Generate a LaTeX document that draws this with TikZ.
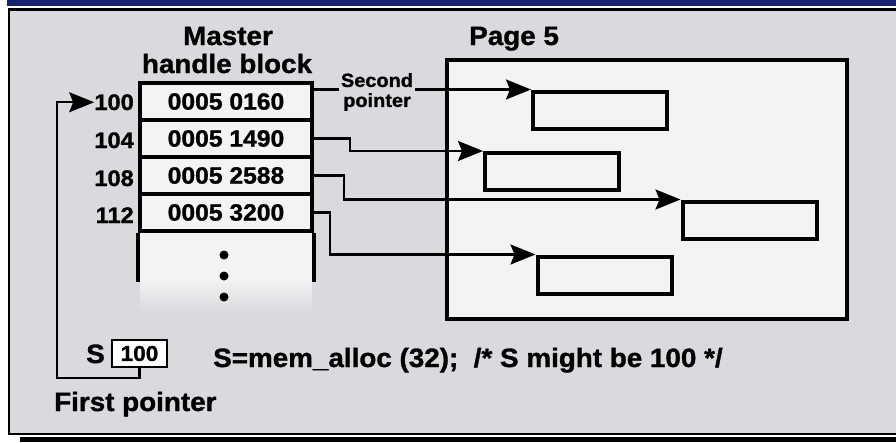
\documentclass[tikz,border=0pt]{standalone}
\usepackage{fontspec}
\setmainfont{Liberation Sans}[FakeStretch=1.05, BoldFeatures={FakeBold=1.2}]
\usetikzlibrary{arrows.meta}
\definecolor{panelgray}{RGB}{216,218,221}
\definecolor{cellwhite}{RGB}{243,243,244}
\definecolor{bandblue}{RGB}{22,36,112}
\begin{document}
\begin{tikzpicture}[x=1pt, y=-1pt,
  cell/.style={draw, line width=4pt, fill=cellwhite, minimum width=172pt, minimum height=37pt, inner sep=0pt, font=\fontsize{23.5}{25}\selectfont\bfseries},
  chunk/.style={draw, line width=4pt, fill=cellwhite, minimum width=134pt, minimum height=37pt, inner sep=0pt},
  addr/.style={anchor=base east, inner sep=0pt, font=\fontsize{22.5}{24}\selectfont\bfseries},
  label/.style={inner sep=0pt, font=\fontsize{26.5}{28}\selectfont\bfseries},
  ptr/.style={line width=2.2pt, -{Stealth[length=25pt, width=20pt, inset=4pt]}}]
\useasboundingbox (0,0) rectangle (896,442);
% panel and frame
\fill[white] (0,0) rectangle (896,442);
\fill[bandblue] (7,0) rectangle (896,6);
\fill[panelgray] (9,9.5) rectangle (896,434);
\draw[line width=2.5pt] (896,9.5) -- (9,9.5) -- (9,434) -- (896,434);
\fill (20,437) rectangle (896,442);
% master handle block
\node[label, anchor=base] (master) at (228,45) {Master};
\node[label, anchor=base] (handle) at (227,73) {handle block};
\fill[cellwhite] (140,231) rectangle (312,280);
\shade[top color=cellwhite, bottom color=panelgray] (140,280) rectangle (312,312);
\node[cell] (c1) at (226,101.5) {0005 0160};
\node[cell] (c2) at (226,138.5) {0005 1490};
\node[cell] (c3) at (226,175.5) {0005 2588};
\node[cell] (c4) at (226,212.5) {0005 3200};
\draw[line width=4pt] (c4.south west) -- ++(0,49);
\draw[line width=4pt] (c4.south east) -- ++(0,49);
\fill (224,255) circle[radius=4.5pt];
\fill (224,276) circle[radius=4.5pt];
\fill (224,297) circle[radius=4.5pt];
\node[addr] (r1) at (134,110) {100};
\node[addr] (r2) at (134,148) {104};
\node[addr] (r3) at (134,186) {108};
\node[addr] (r4) at (134,223) {112};
% page 5
\node[label, anchor=base west] (pagelabel) at (469,45) {Page 5};
\node[draw, line width=4pt, fill=cellwhite, minimum width=400pt, minimum height=259pt] (page) at (647,189.5) {};
\node[chunk] (t1) at (600,110) {};
\node[chunk] (t2) at (552,171.5) {};
\node[chunk] (t3) at (749.5,220) {};
\node[chunk] (t4) at (604.5,275) {};
% second pointers
\draw[ptr] (t1.north west -| c1.east) -- (t1.north west);
\draw[ptr] (c2.east) -- ++(36,0) |- (t2.north west);
\draw[ptr] (c3.east) -- ++(30,0) |- (t3.north west);
\draw[ptr] (c4.east) -- ++(16,0) |- (t4.north west);
\node[fill=panelgray, inner xsep=2pt, inner ysep=0pt, align=center, font=\fontsize{19}{20}\selectfont\bfseries] (second) at (377,92) {Second\\pointer};
% first pointer
\node[label, anchor=base east] (s) at (105,363) {S};
\node[draw, line width=1.5pt, fill=white, minimum width=55pt, minimum height=27pt, inner sep=0pt, font=\fontsize{21.5}{22}\selectfont\bfseries] (sbox) at (139.5,353.5) {100};
\coordinate (turn) at (57,378);
\draw[ptr] (sbox.south) |- (turn) |- (r1.west);
\node[label, anchor=base west] (call) at (213,367) {S=mem\_alloc (32);\ \ /* S might be 100 */};
\node[label, anchor=base west] (first) at (54,411) {First pointer};
\end{tikzpicture}
\end{document}
